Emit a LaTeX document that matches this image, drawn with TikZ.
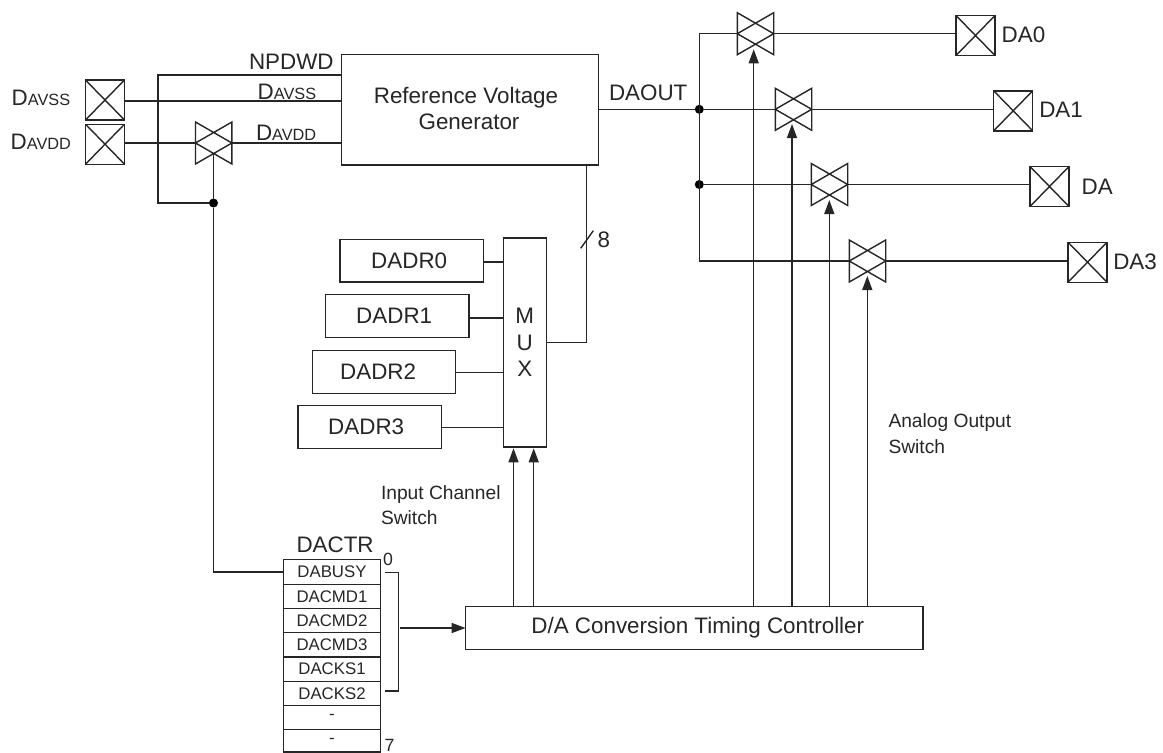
\documentclass[tikz,border=0pt]{standalone}
\usepackage{fontspec}
\setmainfont{Liberation Sans}
\usetikzlibrary{arrows.meta,calc}
\newcommand\fbig{\fontsize{22.4}{26}\selectfont}
\newcommand\fsub{\fontsize{16.3}{18}\selectfont}
\newcommand\freg{\fontsize{16.8}{18}\selectfont}
\newcommand\fnote{\fontsize{19.2}{25}\selectfont}
\tikzset{
  x=1pt,y=-1pt,
  boxn/.style={draw,inner sep=0pt,outer sep=0pt,font=\fbig,align=center,fill=white},
  padn/.style={draw,inner sep=0pt,outer sep=0pt,minimum width=39pt,minimum height=40pt,
    path picture={\draw (path picture bounding box.north west)--(path picture bounding box.south east)
      (path picture bounding box.north east)--(path picture bounding box.south west);}},
  swn/.style={inner sep=0pt,outer sep=0pt,minimum width=36.4pt,minimum height=42pt},
  dotn/.style={circle,fill=black,draw=none,inner sep=0pt,outer sep=0pt,minimum size=9pt},
  lab/.style={inner sep=0pt,outer sep=0pt,anchor=base west,font=\fbig},
  note/.style={inner sep=0pt,outer sep=0pt,anchor=base west,font=\fnote},
  regn/.style={draw,inner sep=0pt,outer sep=0pt,minimum width=97.4pt,font=\freg},
  arr/.style={-{Triangle[length=14pt,width=10pt]}},
}
\newcommand\swt[3]{%
  \node[swn] (#1) at (#2,#3) {};
  \draw[line join=miter] (#1.north west)--(#1.east)--(#1.south west)--cycle
        (#1.north east)--(#1.west)--(#1.south east)--cycle;}
\begin{document}
\begin{tikzpicture}[line width=1.4pt,color=black!85]
\useasboundingbox (0,0) rectangle (1163,753);
% boxes
\node[boxn,minimum width=256.6pt,minimum height=110.3pt] (ref) at (470,109.85)
  {\raisebox{3pt}{Reference Voltage}\hspace*{8pt}\\\raisebox{3pt}{Generator}\hspace*{2pt}};
\node[boxn,minimum width=43pt,minimum height=209pt,font=\fontsize{22.4}{26.7}\selectfont] (mux) at (524.8,342.5) {M\\U\\X};
\node[boxn,minimum width=143.3pt,minimum height=42.7pt] (dadr0) at (411.7,260.65) {DADR0\hspace*{5pt}};
\node[boxn,minimum width=143.3pt,minimum height=42.7pt] (dadr1) at (397.2,315.85) {DADR1\hspace*{6pt}};
\node[boxn,minimum width=143.3pt,minimum height=42.7pt] (dadr2) at (384.1,371.85) {DADR2\hspace*{12pt}};
\node[boxn,minimum width=143.3pt,minimum height=42.7pt] (dadr3) at (369.7,426.85) {DADR3\hspace*{7pt}};
\node[boxn,minimum width=457.4pt,minimum height=42.6pt] (ctl) at (694.3,628) {\hspace*{7pt}D/A Conversion Timing Controller};
% pads
\node[padn] (pss) at (105,100) {};
\node[padn] (pdd) at (105,144.2) {};
\node[padn] (p0) at (975.5,35.5) {};
\node[padn] (p1) at (1013.2,110.8) {};
\node[padn] (p2) at (1049.5,186.5) {};
\node[padn] (p3) at (1087.5,262.2) {};
% switches
\swt{swl}{213.7}{143}
\swt{sw0}{755.5}{33.7}
\swt{sw1}{793.5}{109.3}
\swt{sw2}{829.5}{184.5}
\swt{sw3}{867.5}{261}
% register
\node[regn,minimum height=25pt] (r0) at (332,571.8) {DABUSY};
\node[regn,minimum height=24.4pt] (r1) at (332,596.5) {\raisebox{-1.5pt}{DACMD1}};
\node[regn,minimum height=24pt] (r2) at (332,620.7) {DACMD2};
\node[regn,minimum height=24.3pt] (r3) at (332,644.85) {\raisebox{-1pt}{DACMD3}};
\node[regn,minimum height=24.3pt] (r4) at (332,669.15) {DACKS1};
\node[regn,minimum height=24pt] (r5) at (332,693.3) {\raisebox{-.7pt}{DACKS2}};
\node[regn,minimum height=24pt] (r6) at (332,717.3) {-};
\node[regn,minimum height=22.6pt] (r7) at (332,740.6) {-};
% dots and free ends
\node[dotn] (d0) at (213.5,203) {};
\node[dotn] (d1) at (699.3,109.3) {};
\node[dotn] (d2) at (699.3,184.5) {};
\coordinate (np) at (341.7,75);
\coordinate (cor) at (158,203);
\coordinate (lss) at (124.5,101);
\coordinate (gl) at (213.5,153.5);
\coordinate (refo) at (586.7,165);
\coordinate (busb) at (699.3,261);
\coordinate (bt) at (398.7,572.7);
\coordinate (bb) at (398.7,691);
\coordinate (btl) at (385,572.7);
\coordinate (bbl) at (385,691);
\coordinate (bm) at (399.5,628);
\coordinate (s1) at (580.7,248.3);
\coordinate (s2) at (593.3,230.7);
\coordinate (g0) at (753.7,49.3);
\coordinate (g1) at (792,124);
\coordinate (g2) at (829.3,200);
\coordinate (g3) at (867.3,276);
\coordinate (m0) at (513.5,448.3);
\coordinate (m1) at (533.7,448.3);
% connectors left
\draw (np) -| (cor) -- (d0);
\draw (lss) -- (lss -| ref.west);
\draw (pdd.east |- swl.west) -- (swl.west);
\draw (swl.east) -- (swl.east -| ref.west);
\draw (gl) -- (d0);
\draw (r0.west) -| (d0);
% connectors mid
\draw (mux.east) -| (refo);
\draw (s1) -- (s2);
\draw ([yshift=-1.3pt]dadr0.east) -- ([yshift=-1.3pt]dadr0.east -| mux.west);
\draw ([yshift=-2.2pt]dadr1.east) -- ([yshift=-2.2pt]dadr1.east -| mux.west);
\draw ([yshift=-.5pt]dadr2.east) -- ([yshift=-.5pt]dadr2.east -| mux.west);
\draw ([yshift=-.5pt]dadr3.east) -- ([yshift=-.5pt]dadr3.east -| mux.west);
\draw[arr] (m0 |- ctl.north) -- (m0);
\draw[arr] (m1 |- ctl.north) -- (m1);
% connectors right
\draw (ref.east |- d1) -- (d1);
\draw (d1) -- (sw1.west);
\draw (d2) -- (sw2.west);
\draw (sw0.west) -| (busb) -- (sw3.west);
\draw (sw0.east) -- (sw0.east -| p0.west);
\draw (sw1.east) -- (sw1.east -| p1.west);
\draw (sw2.east) -- (sw2.east -| p2.west);
\draw (sw3.east) -- (sw3.east -| p3.west);
\draw[arr] (g0 |- ctl.north) -- (g0);
\draw[arr] (g1 |- ctl.north) -- (g1);
\draw[arr] (g2 |- ctl.north) -- (g2);
\draw[arr] (g3 |- ctl.north) -- (g3);
% bracket
\draw (btl) -- (bt) -- (bb) -- (bbl);
\draw[arr] (bm) -- (ctl.west);
% labels
\node[lab] (lnp) at (249,69.3) {NPDWD};
\node[lab] (lss1) at (11.7,105) {D{\fsub AVSS}};
\node[lab] (ldd1) at (10.7,149) {D{\fsub AVDD}};
\node[lab] (lss2) at (257.7,99) {D{\fsub AVSS}};
\node[lab] (ldd2) at (256,140.7) {D{\fsub AVDD}};
\node[lab] (lout) at (609,100.7) {DAOUT};
\node[lab] (l8) at (597.5,247.5) {8};
\node[lab] (la0) at (1001.7,42.7) {DA0};
\node[lab] (la1) at (1039.3,117.3) {DA1};
\node[lab] (la2) at (1081.7,194) {DA};
\node[lab] (la3) at (1113.3,269.3) {DA3};
\node[lab] (lctr) at (296.5,552) {DACTR};
\node[lab,font=\fontsize{17.7}{18}\selectfont] (l0) at (383,565) {0};
\node[lab,font=\fontsize{17.7}{18}\selectfont] (l7) at (384.5,751.5) {7};
\node[note] (n1) at (381,499) {Input Channel};
\node[note] (n2) at (381,524.5) {Switch};
\node[note] (n3) at (888.5,427) {Analog Output};
\node[note] (n4) at (888.5,453) {Switch};
\end{tikzpicture}
\end{document}
